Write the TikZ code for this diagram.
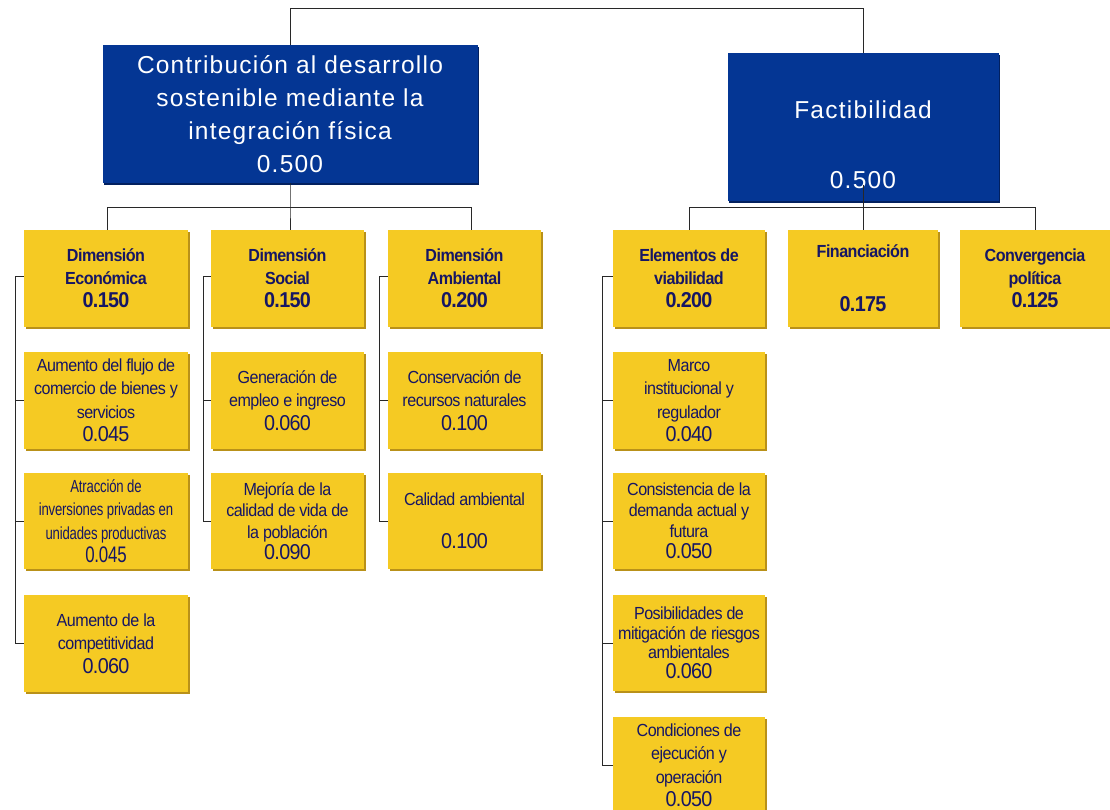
\documentclass[tikz,border=0pt]{standalone}
\usepackage{fontspec}
\setmainfont{Liberation Sans}
\newfontfamily\bluef[LetterSpace=5]{Liberation Sans}
\newfontfamily\yelf[FakeStretch=0.92,LetterSpace=-3]{Liberation Sans}
\newfontfamily\narf[FakeStretch=0.75,LetterSpace=-1]{Liberation Sans}
\usetikzlibrary{shadows}
\definecolor{bluec}{RGB}{4,54,148}
\definecolor{bluesh}{RGB}{2,32,95}
\definecolor{yelc}{RGB}{245,202,35}
\definecolor{yelsh}{RGB}{185,145,25}
\definecolor{navy}{RGB}{22,22,100}
\definecolor{linec}{RGB}{40,40,40}
\newcommand\bv[1]{{\fontsize{21.5}{24}\selectfont #1}}
\newcommand\rv[1]{{\fontsize{21.5}{24}\selectfont #1}}
\tikzset{
  wh/.style 2 args={minimum width=#1pt, minimum height=#2pt},
  bluebox/.style={rectangle, fill=bluec, inner sep=0pt, text=white, align=center,
    font=\bluef\fontsize{24.5}{33}\selectfont,
    drop shadow={shadow xshift=1.5pt, shadow yshift=-2pt, fill=bluesh, opacity=1}},
  bluetext/.style={inner sep=0pt, text=white, font=\bluef\fontsize{24.5}{33}\selectfont},
  yelbox/.style={rectangle, fill=yelc, inner sep=0pt, text=navy, align=center,
    font=\yelf\fontsize{17.5}{23.5}\selectfont,
    drop shadow={shadow xshift=1.5pt, shadow yshift=-2pt, fill=yelsh, opacity=1}},
  yelhead/.style={yelbox, font=\yelf\bfseries\fontsize{17.5}{23}\selectfont},
  yelnar/.style={yelbox, font=\narf\fontsize{17.5}{23.5}\selectfont},
  conn/.style={draw=linec, line width=1pt},
}
\begin{document}
\begin{tikzpicture}[x=1pt,y=-1pt]
\clip (0,0) rectangle (1110,810);
\fill[white] (0,0) rectangle (1110,810);

% top level
\node[bluebox, wh={375}{138}] (con) at (290,114)
  {Contribución al desarrollo\\sostenible mediante la\\integración física\\0.500};
\node[bluebox, wh={271}{148}] (fac) at (863,127) {};
\node[bluetext] (facT) at (863,110) {Factibilidad};
\node[bluetext] (facV) at (863,180) {0.500};

% level 1
\node[yelhead, wh={164}{97}] (eco) at (106,278.5) {Dimensión\\Económica\\\bv{0.150}};
\node[yelhead, wh={153}{97}] (soc) at (287.5,278.5) {Dimensión\\Social\\\bv{0.150}};
\node[yelhead, wh={153}{97}] (amb) at (464.5,278.5) {Dimensión\\Ambiental\\\bv{0.200}};
\node[yelhead, wh={152}{97}] (ele) at (689,278.5) {Elementos de\\viabilidad\\\bv{0.200}};
\node[yelhead, wh={150}{97}] (fin) at (863,278.5) {Financiación\\[31pt]\bv{0.175}};
\node[yelhead, wh={150}{97}] (cvg) at (1035,278.5) {Convergencia\\política\\\bv{0.125}};

% level 2 economic
\node[yelbox, wh={164}{97}] (e1) at (106,400.5) {Aumento del flujo de\\comercio de bienes y\\servicios\\\rv{0.045}};
\node[yelnar, wh={164}{96}] (e2) at (106,521) {Atracción de\\inversiones privadas en\\unidades productivas\\{\fontsize{22.5}{24}\selectfont 0.045}};
\node[yelbox, wh={164}{97}] (e3) at (106,643.5) {Aumento de la\\competitividad\\\rv{0.060}};

% social
\node[yelbox, wh={153}{97}] (s1) at (287.5,400.5) {Generación de\\empleo e ingreso\\\rv{0.060}};
\node[yelbox, wh={153}{96}, font=\yelf\fontsize{17.5}{21.5}\selectfont] (s2) at (287.5,521) {Mejoría de la\\calidad de vida de\\la población\\\rv{0.090}};

% ambiental
\node[yelbox, wh={153}{97}] (a1) at (464.5,400.5) {Conservación de\\recursos naturales\\\rv{0.100}};
\node[yelbox, wh={153}{96}] (a2) at (464.5,521) {Calidad ambiental\\[20pt]\rv{0.100}};

% viabilidad
\node[yelbox, wh={152}{97}] (v1) at (689,400.5) {Marco\\institucional y\\regulador\\\rv{0.040}};
\node[yelbox, wh={152}{96}, font=\yelf\fontsize{17.5}{21}\selectfont] (v2) at (689,521) {Consistencia de la\\demanda actual y\\futura\\\rv{0.050}};
\node[yelbox, wh={152}{96}, font=\yelf\fontsize{17.5}{19.5}\selectfont] (v3) at (689,643) {Posibilidades de\\mitigación de riesgos\\ambientales\\\rv{0.060}};
\node[yelbox, wh={152}{97}] (v4) at (689,765.5) {Condiciones de\\ejecución y\\operación\\\rv{0.050}};

% connectors top
\draw[conn] (con.north) -- ++(0,-36) -| (fac.north);
\coordinate (cj) at ([yshift=-24pt]con.south);
\draw[conn] (con.south) -- (cj) -- ([xshift=2.5pt]soc.north);
\draw[conn] ([xshift=1pt]eco.north) |- (cj) -| ([xshift=6.5pt]amb.north);
\coordinate (fj) at ([yshift=-6pt]fac.south);
\draw[conn] ([yshift=16pt]fac.south) -- (fin.north);
\draw[conn] (ele.north) |- (fj) -| (cvg.north);

% brackets
\draw[conn] ([yshift=2.5pt]eco.west) -- ++(-8,0) |- (e3.west);
\draw[conn] (e1.west) -- ++(-8,0);
\draw[conn] (e2.west) -- ++(-8,0);
\draw[conn] ([yshift=2.5pt]soc.west) -- ++(-7.5,0) |- (s2.west);
\draw[conn] (s1.west) -- ++(-7.5,0);
\draw[conn] ([yshift=2.5pt]amb.west) -- ++(-8,0) |- (a2.west);
\draw[conn] (a1.west) -- ++(-8,0);
\draw[conn] ([yshift=2pt]ele.west) -- ++(-10,0) |- (v4.west);
\draw[conn] (v1.west) -- ++(-10,0);
\draw[conn] (v2.west) -- ++(-10,0);
\draw[conn] (v3.west) -- ++(-10,0);
\end{tikzpicture}
\end{document}
